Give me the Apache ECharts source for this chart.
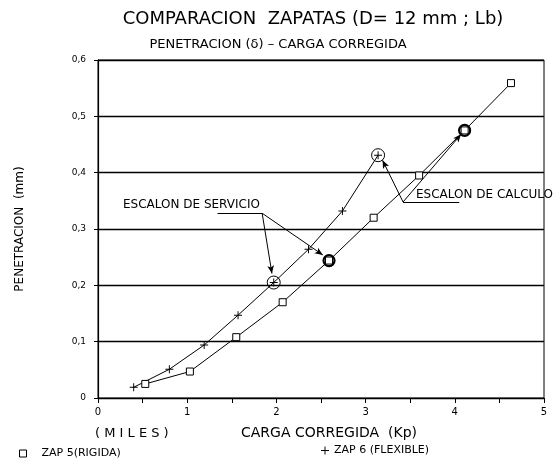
<!DOCTYPE html>
<html>
<head>
<meta charset="utf-8">
<script src="https://cdn.jsdelivr.net/npm/echarts@6/dist/echarts.min.js"></script>
<style>
html, body { margin: 0; padding: 0; background: #fff; }
#main { width: 553px; height: 462px; }
</style>
</head>
<body>
<div id="main"></div>
<script>
// carga corregida (miles de Kp) y penetracion (mm)
var zap5X = [0.53, 1.03, 1.55, 2.07, 2.59, 3.09, 3.60, 4.11, 4.63];
var zap5Y = [0.025, 0.047, 0.108, 0.170, 0.244, 0.320, 0.395, 0.475, 0.559];
var zap6X = [0.40, 0.80, 1.19, 1.57, 1.97, 2.36, 2.74, 3.14];
var zap6Y = [0.019, 0.051, 0.094, 0.147, 0.205, 0.264, 0.332, 0.431];

// escalones marcados con circulo
var servicio6 = [1.97, 0.205];
var servicio5 = [2.59, 0.244];
var calculo6 = [3.14, 0.431];
var calculo5 = [4.11, 0.475];

// flechas de las notas (vertice -> punto)
var servicioVertex = [1.84, 0.328];
var servicioUnder = [1.34, 0.328];
var servicioEnds = [[1.95, 0.221], [2.52, 0.254]];
var calculoVertex = [3.42, 0.348];
var calculoUnder = [4.05, 0.348];
var calculoEnds = [[3.19, 0.422], [4.07, 0.468]];

var seriesNames = ['ZAP 5(RIGIDA)', 'ZAP 6 (FLEXIBLE)'];

function pairs(xs, ys) {
	var res = [];
	for (var i = 0; i < xs.length; i++) res.push([xs[i], ys[i]]);
	return res;
}

var font = 'DejaVu Sans';
var plusPath = 'path://M4.4,0H5.6V4.4H10V5.6H5.6V10H4.4V5.6H0V4.4H4.4Z';

function arrowLines(vertex, under, ends) {
	var d = [[{ coord: under, symbol: 'none' }, { coord: vertex, symbol: 'none' }]];
	ends.forEach(function(e) {
		d.push([{ coord: vertex, symbol: 'none' }, { coord: e, symbol: 'arrow', symbolSize: [5, 8] }]);
	});
	return d;
}

var chart = echarts.init(document.getElementById('main'));
var option = {
	backgroundColor: '#fff',
	animation: false,
	textStyle: { fontFamily: font, color: '#000' },
	title: [{
		text: 'COMPARACION  ZAPATAS (D= 12 mm ; Lb)',
		left: 308, top: 5, textAlign: 'center',
		textStyle: { fontFamily: font, fontSize: 18, fontWeight: 'normal', color: '#000' }
	}, {
		text: 'PENETRACION (δ) – CARGA CORREGIDA',
		left: 273, top: 33, textAlign: 'center',
		textStyle: { fontFamily: font, fontSize: 13, fontWeight: 'normal', color: '#000' }
	}],
	grid: { left: 98, right: 9, top: 60, bottom: 64, show: true, borderColor: '#000', borderWidth: 1 },
	legend: [{
		data: [seriesNames[0]], left: 14, top: 443, icon: 'rect', itemWidth: 7, itemHeight: 7, itemGap: 4,
		itemStyle: { color: '#fff', borderColor: '#000', borderWidth: 1 },
		textStyle: { fontFamily: font, fontSize: 11, color: '#000', padding: [0, 0, 0, 10] }
	}, {
		data: [seriesNames[1]], left: 316, top: 440, icon: plusPath, itemWidth: 8, itemHeight: 8,
		itemStyle: { color: '#000', borderWidth: 0 },
		textStyle: { fontFamily: font, fontSize: 11, color: '#000' }
	}],
	xAxis: {
		type: 'value', min: 0, max: 5, interval: 0.5,
		name: 'CARGA CORREGIDA  (Kp)', nameLocation: 'middle', nameGap: 28,
		nameTextStyle: { fontFamily: font, fontSize: 14, color: '#000', padding: [0, 0, 0, 16] },
		axisLine: { lineStyle: { color: '#000', width: 1.2 } },
		axisTick: { show: true, length: 5, lineStyle: { color: '#000' } },
		axisLabel: {
			color: '#000', fontSize: 10, margin: 9,
			formatter: function(v) { return v % 1 === 0 ? String(v) : ''; }
		},
		splitLine: { show: false }
	},
	yAxis: {
		type: 'value', min: 0, max: 0.6, interval: 0.1,
		name: 'PENETRACION  (mm)', nameLocation: 'middle', nameGap: 72, nameRotate: 90,
		nameTextStyle: { fontFamily: font, fontSize: 12, color: '#000' },
		axisLine: { show: true, lineStyle: { color: '#000', width: 1.2 } },
		axisTick: { show: true, length: 4, lineStyle: { color: '#000' } },
		axisLabel: {
			color: '#000', fontSize: 9, margin: 12,
			formatter: function(v) { return v === 0 ? '0' : v.toFixed(1).replace('.', ','); }
		},
		splitLine: { show: true, lineStyle: { color: '#000', width: 1.3 } }
	},
	graphic: [{
		type: 'text', left: 95, top: 427,
		style: { text: '( M I L E S )', font: '13px "DejaVu Sans"', fill: '#000' }
	}, {
		type: 'text', left: 123, top: 199,
		style: { text: 'ESCALON DE SERVICIO', font: '12px "DejaVu Sans"', fill: '#000' }
	}, {
		type: 'text', left: 416, top: 189,
		style: { text: 'ESCALON DE CALCULO', font: '12px "DejaVu Sans"', fill: '#000' }
	}],
	series: [{
		name: seriesNames[0], type: 'line', data: pairs(zap5X, zap5Y),
		symbol: 'rect', symbolSize: 7, showAllSymbol: true,
		lineStyle: { color: '#000', width: 1 },
		itemStyle: { color: '#fff', borderColor: '#000', borderWidth: 1 },
		markPoint: {
			symbol: 'circle', symbolSize: 11, label: { show: false },
			itemStyle: { color: 'rgba(0,0,0,0)', borderColor: '#000', borderWidth: 2.2 },
			data: [{ coord: servicio5 }, { coord: calculo5 }]
		},
		markLine: {
			silent: true, label: { show: false },
			lineStyle: { color: '#000', width: 1, type: 'solid' },
			data: arrowLines(servicioVertex, servicioUnder, servicioEnds)
		},
		z: 3
	}, {
		name: seriesNames[1], type: 'line', data: pairs(zap6X, zap6Y),
		symbol: plusPath, symbolSize: 8, showAllSymbol: true,
		lineStyle: { color: '#000', width: 1 },
		itemStyle: { color: '#000', borderWidth: 0 },
		markPoint: {
			symbol: 'circle', symbolSize: 13, label: { show: false },
			itemStyle: { color: 'rgba(0,0,0,0)', borderColor: '#000', borderWidth: 1 },
			data: [{ coord: servicio6 }, { coord: calculo6 }]
		},
		markLine: {
			silent: true, label: { show: false },
			lineStyle: { color: '#000', width: 1, type: 'solid' },
			data: arrowLines(calculoVertex, calculoUnder, calculoEnds)
		},
		z: 3
	}]
};
chart.setOption(option);
</script>
</body>
</html>
